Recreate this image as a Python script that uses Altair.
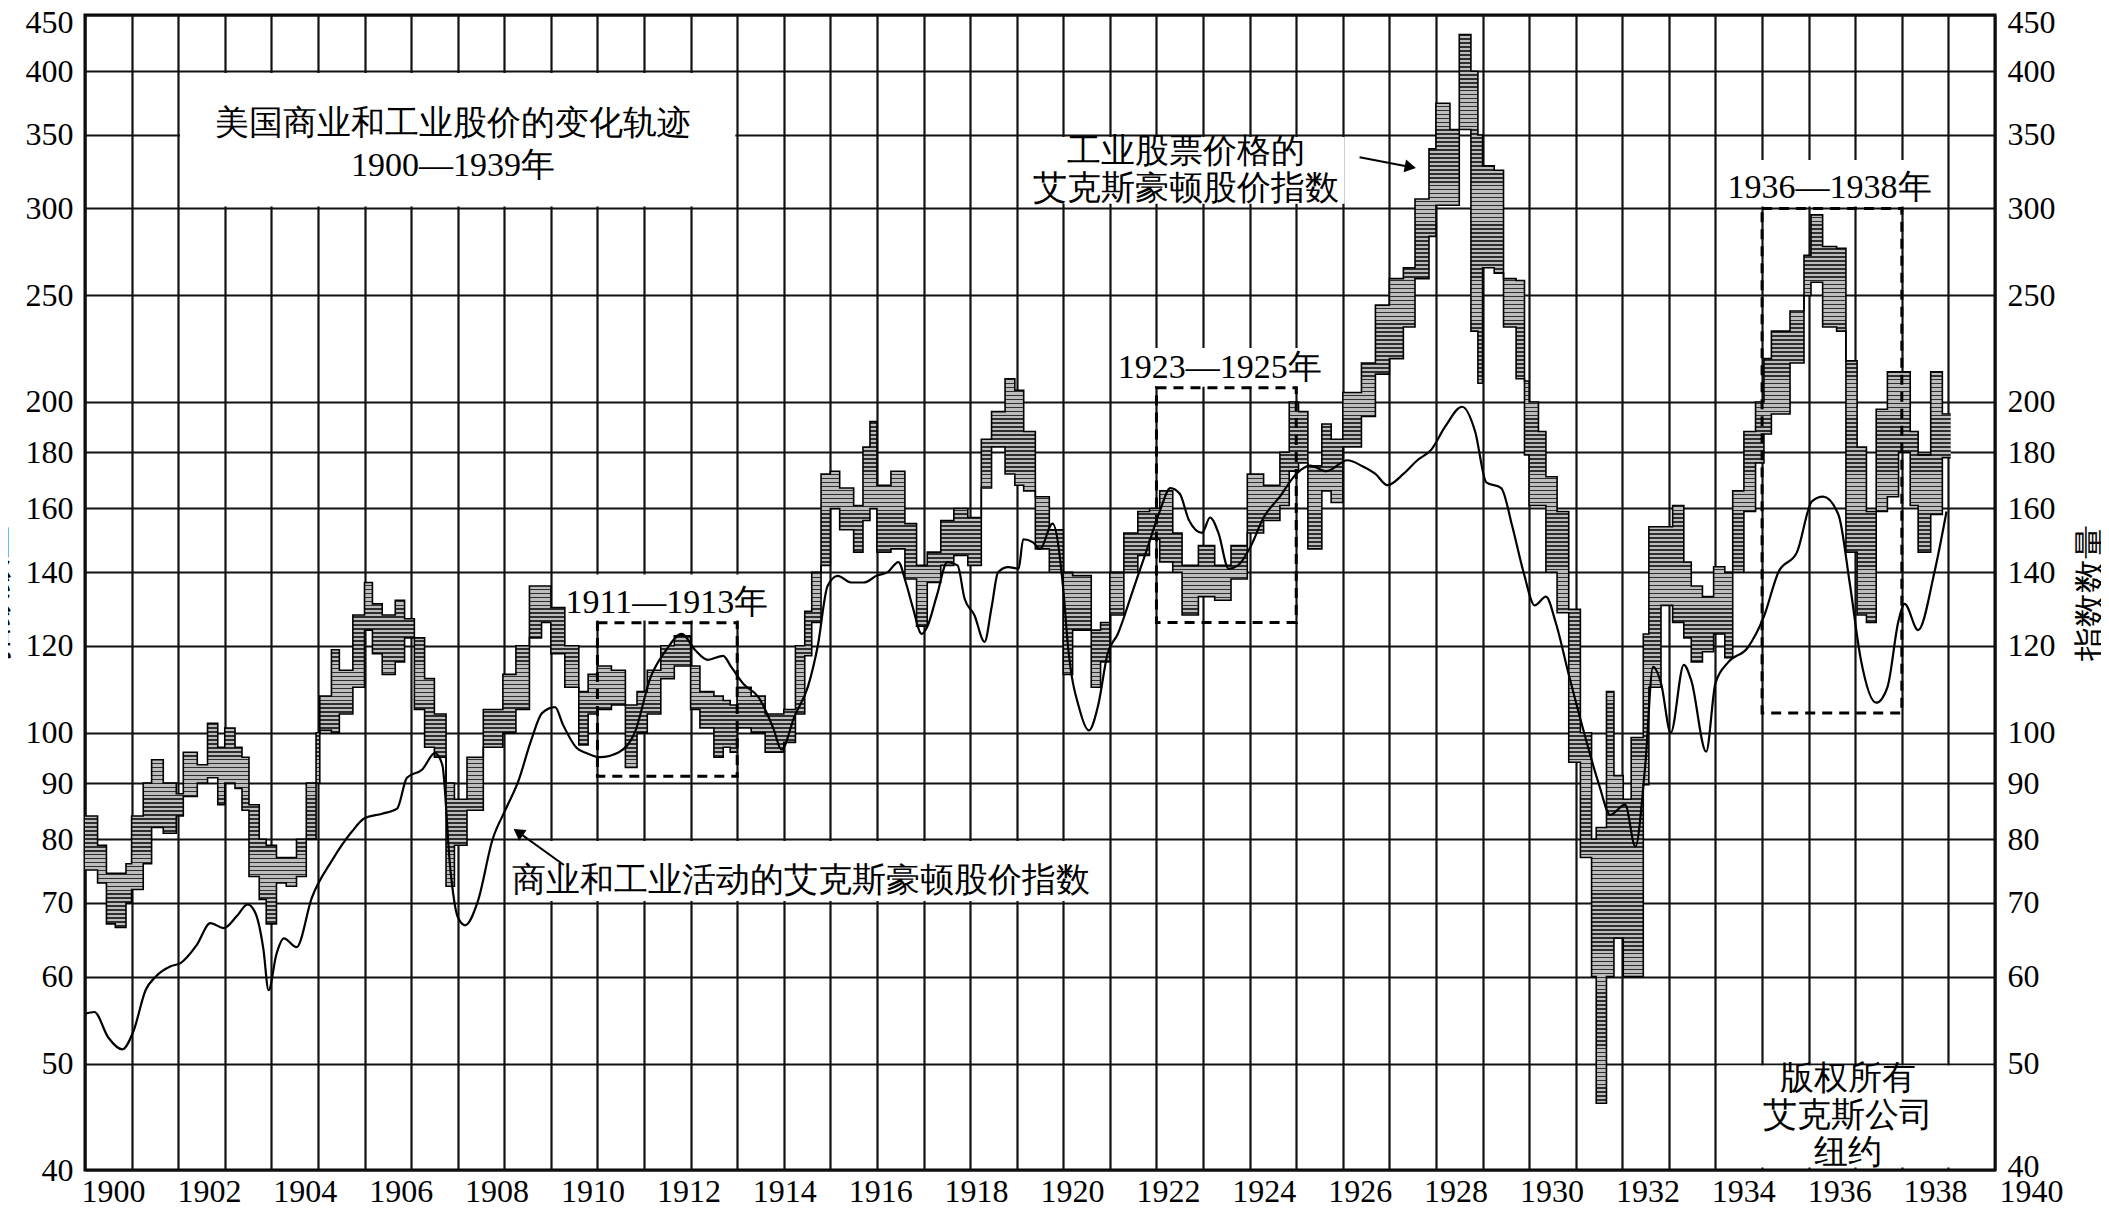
import altair as alt
import pandas as pd

# ---------------- data ----------------
# Axe-Houghton index of industrial stock prices: range (high / low), step periods starting at band_t
band_t = [1900.00, 1900.27, 1900.46, 1900.65, 1900.88, 1901.00, 1901.25, 1901.43, 1901.68, 1901.96,
          1902.11, 1902.41, 1902.63, 1902.85, 1903.00, 1903.22, 1903.37, 1903.52, 1903.74, 1903.89,
          1904.11, 1904.32, 1904.54, 1904.75, 1904.96, 1905.04, 1905.29, 1905.46, 1905.75, 1906.00,
          1906.17, 1906.38, 1906.66, 1906.86, 1907.07, 1907.29, 1907.50, 1907.75, 1907.93, 1908.20,
          1908.55, 1908.97, 1909.25, 1909.54, 1909.80, 1910.00, 1910.30, 1910.60, 1910.80, 1911.00,
          1911.30, 1911.60, 1911.85, 1912.07, 1912.36, 1912.65, 1913.00, 1913.20, 1913.50, 1913.70,
          1913.85, 1914.00, 1914.30, 1914.60, 1915.00, 1915.25, 1915.45, 1915.60, 1915.80, 1916.00,
          1916.20, 1916.50, 1916.70, 1916.85, 1917.00, 1917.30, 1917.60, 1917.85, 1918.08, 1918.37,
          1918.65, 1918.95, 1919.24, 1919.46, 1919.75, 1919.96, 1920.15, 1920.40, 1920.70, 1921.00,
          1921.20, 1921.60, 1921.80, 1922.00, 1922.30, 1922.60, 1922.85, 1923.07, 1923.35, 1923.55,
          1923.90, 1924.25, 1924.60, 1924.95, 1925.30, 1925.65, 1925.85, 1926.05, 1926.25, 1926.55,
          1926.75, 1927.00, 1927.40, 1927.70, 1928.00, 1928.30, 1928.55, 1928.85, 1929.00, 1929.30,
          1929.50, 1929.75, 1929.90, 1930.00, 1930.25, 1930.45, 1930.72, 1930.90, 1931.00, 1931.20,
          1931.36, 1931.60, 1931.85, 1932.10, 1932.34, 1932.44, 1932.66, 1932.82, 1933.02, 1933.19,
          1933.45, 1933.57, 1933.83, 1934.08, 1934.32, 1934.48, 1934.72, 1934.96, 1935.20, 1935.37,
          1935.61, 1935.86, 1936.04, 1936.20, 1936.60, 1936.90, 1937.05, 1937.30, 1937.60, 1937.80,
          1938.04, 1938.24, 1938.45, 1938.69, 1938.93, 1939.18, 1939.35, 1939.62, 1939.87, 1940.05]
band_high = [84, 79, 74.5, 74.5, 76, 84, 90, 94.5, 90, 88,
             96, 93.5, 102, 97, 101, 97, 95, 86, 80, 79,
             77, 77, 80, 90, 100, 108, 119, 114, 128, 137,
             131, 128, 132, 127, 122, 112, 104, 90, 87, 95,
             105, 113, 120, 136, 136, 130, 120, 109, 113, 115,
             114, 106, 109, 114, 120, 122.5, 115, 109, 108, 107,
             106, 110, 108, 104, 105, 120, 129, 140, 172, 173,
             167, 161, 182, 192, 168, 173, 155, 142, 146, 156,
             160, 157, 185, 196, 210, 205, 188, 164, 153, 140,
             139, 124, 126, 140, 152, 159, 160, 166, 152, 142,
             148, 142, 148, 172, 168, 180, 200, 196, 175, 191,
             185, 204, 217, 245, 259, 265, 306, 340, 374, 354,
             432, 400, 350, 328, 325, 259, 258, 209, 200, 188,
             171, 159, 129.5, 100, 80, 82, 109, 91.4, 87, 99,
             123, 154, 154, 161, 143, 136, 133, 141.6, 140, 166,
             188, 200, 219, 232, 242, 272, 296, 277, 276, 218,
             182, 159, 197, 213, 213, 188, 179, 213, 195, 195]
band_low = [75, 73, 67, 66.5, 70, 72, 76, 82, 81, 84,
            87.5, 90, 91, 86, 90, 89, 85, 74, 70.5, 67,
            73, 72.5, 74, 80, 90, 100.5, 100, 104, 110, 124,
            118, 113, 116, 122, 105, 97, 95, 72.5, 79, 85,
            97, 100, 105, 122, 126, 118, 110, 97.5, 104, 105,
            106, 93, 100, 104, 112, 115, 105, 101, 95, 97,
            96, 101, 100, 96, 98, 104, 117.5, 126, 142, 160,
            153, 146, 156, 160, 146, 147, 138, 125, 137, 142,
            145, 142, 167, 182, 172, 168, 166, 147, 140, 113,
            124, 110, 116, 128, 140, 145, 150, 143, 140, 128,
            133, 132, 138, 152, 156, 161, 173, 176, 147, 166,
            162, 182, 194, 212, 219, 234, 259, 283, 302, 302,
            354, 232, 208, 265, 262, 234, 210, 179, 161, 161,
            140, 128.6, 94, 77, 60, 46, 60, 65, 60, 60,
            89.7, 110, 130.6, 126, 122, 116, 118.5, 123, 117, 140,
            159, 176, 187, 195, 217, 250, 257, 234, 232, 146,
            128, 126, 159, 164, 180, 161, 146, 158, 178, 178]

# Axe-Houghton index of business activity
biz_t = [1900.00, 1900.20, 1900.50, 1900.80, 1901.04, 1901.30, 1901.52, 1901.84, 1902.05, 1902.40,
         1902.69, 1902.98, 1903.26, 1903.49, 1903.66, 1903.83, 1903.94, 1904.11, 1904.27, 1904.54,
         1904.87, 1905.30, 1905.73, 1906.00, 1906.38, 1906.70, 1906.91, 1907.24, 1907.51, 1907.67,
         1907.84, 1908.00, 1908.16, 1908.43, 1908.75, 1909.02, 1909.30, 1909.58, 1909.81, 1910.09,
         1910.26, 1910.55, 1910.77, 1911.05, 1911.46, 1911.80, 1912.14, 1912.48, 1912.81, 1913.09,
         1913.37, 1913.70, 1913.86, 1914.13, 1914.46, 1914.78, 1914.95, 1915.23, 1915.52, 1915.73,
         1915.94, 1916.16, 1916.44, 1916.72, 1917.00, 1917.23, 1917.46, 1917.62, 1917.77, 1917.96,
         1918.07, 1918.29, 1918.51, 1918.73, 1918.88, 1919.09, 1919.31, 1919.46, 1919.60, 1919.82,
         1920.04, 1920.14, 1920.35, 1920.50, 1920.77, 1921.00, 1921.10, 1921.35, 1921.55, 1921.75,
         1921.95, 1922.17, 1922.50, 1922.80, 1923.07, 1923.30, 1923.50, 1923.70, 1923.98, 1924.15,
         1924.33, 1924.55, 1924.75, 1925.03, 1925.30, 1925.65, 1926.00, 1926.30, 1926.65, 1927.10,
         1927.40, 1927.70, 1927.96, 1928.30, 1928.60, 1928.90, 1929.20, 1929.56, 1929.84, 1930.08,
         1930.40, 1930.64, 1930.88, 1931.12, 1931.36, 1931.57, 1931.85, 1932.18, 1932.50, 1932.74,
         1933.06, 1933.28, 1933.49, 1933.66, 1933.83, 1934.04, 1934.32, 1934.48, 1934.80, 1935.00,
         1935.28, 1935.69, 1936.04, 1936.35, 1936.75, 1937.07, 1937.31, 1937.64, 1937.88, 1938.12,
         1938.45, 1938.69, 1938.93, 1939.06, 1939.35, 1939.70, 1939.96]
biz_v = [55.5, 55.7, 52.8, 51.5, 53.5, 58.3, 60, 61.3, 61.7, 64.1,
         67.1, 66.4, 68.1, 69.8, 68.5, 63.5, 58.3, 62.9, 65, 63.8,
         70.8, 76.5, 81.3, 83.6, 84.4, 85.3, 91, 92.6, 95.8, 93.5,
         75.3, 68, 66.8, 70.2, 80, 85, 90.3, 98.5, 104.2, 105.5,
         101.7, 96.9, 95.8, 95, 96, 100, 112.3, 119, 123, 119,
         116.5, 117.5, 115, 110.8, 107.7, 100.8, 96.5, 103.5, 110.2, 120,
         136, 138.9, 137, 137, 139, 140, 143, 137, 130, 123,
         124.6, 133.5, 143, 142, 132.5, 128, 121, 130, 140, 141.5,
         141, 150, 149, 147, 155, 135, 120, 105, 100.5, 106,
         118, 123, 135, 147, 159, 167, 165, 156, 152, 157,
         152, 141, 142, 148, 157, 164, 172, 175, 173, 177,
         175, 172, 168, 172, 177, 181, 190, 198, 188, 169,
         167, 154, 140, 130.6, 133, 126, 113, 100, 89.7, 84.2,
         86, 78.8, 93.2, 114.8, 111, 100, 115.3, 111.6, 96.1, 111,
         116, 119.5, 127.6, 140, 146, 162.4, 164, 157.9, 137, 116.6,
         106.5, 110, 126.5, 131, 124, 140, 159]

# axes
y_ticks = [40, 50, 60, 70, 80, 90, 100, 120, 140, 160, 180, 200, 250, 300, 350, 400, 450]
x_grid_years = list(range(1900, 1942))
x_label_years = [1900, 1902, 1904, 1906, 1908, 1910, 1912, 1914, 1916, 1918, 1920,
                 1922, 1924, 1926, 1928, 1930, 1932, 1934, 1936, 1938, 1940]

# annotations (x, y of the first text line)
title_text = ["美国商业和工业股价的变化轨迹\n1900—1939年"]
title_x = [1907.9]
title_y = [358]

ann_text = ["工业股票价格的\n艾克斯豪顿股价指数",
            "商业和工业活动的艾克斯豪顿股价指数",
            "1911—1913年", "1923—1925年", "1936—1938年",
            "版权所有\n艾克斯公司\n纽约"]
ann_x = [1923.63, 1915.36, 1912.49, 1924.36, 1937.45, 1937.85]
ann_y = [337.6, 73.3, 131.2, 214.7, 313, 48.4]

bg_x1 = [1902.04, 1920.3, 1909.1, 1910.3, 1922.1, 1935.26, 1935.04]
bg_x2 = [1913.96, 1927.04, 1921.6, 1914.7, 1926.7, 1939.64, 1940.96]
bg_y1 = [301.3, 303, 70.3, 126.5, 206.5, 301.3, 40.2]
bg_y2 = [398.4, 348.5, 79.7, 139.3, 224, 332, 49.8]

box_x1 = [1911, 1923, 1936]
box_x2 = [1914, 1926, 1939]
box_y1 = [91.3, 126, 104.2]
box_y2 = [125.9, 206, 300]

arrow_x1 = [1927.36, 1910.28]
arrow_y1 = [334, 75.8]
arrow_x2 = [1928.45, 1909.3]
arrow_y2 = [327.3, 81.2]
arrow_shape = ["triangle-right", "triangle-left"]
arrow_angle = [11, 35]

# ---------------- chart ----------------
FONT = "Liberation Serif"
W, H = 1910, 1155

band = pd.DataFrame({"t": band_t, "high": band_high, "low": band_low})
biz = pd.DataFrame({"t": biz_t, "v": biz_v})
ttl = pd.DataFrame({"text": title_text, "x": title_x, "y": title_y})
ann = pd.DataFrame({"text": ann_text, "x": ann_x, "y": ann_y})
bg = pd.DataFrame({"x1": bg_x1, "x2": bg_x2, "y1": bg_y1, "y2": bg_y2})
boxes = pd.DataFrame({"x1": box_x1, "x2": box_x2, "y1": box_y1, "y2": box_y2})
arrows = pd.DataFrame({"x1": arrow_x1, "y1": arrow_y1, "x2": arrow_x2, "y2": arrow_y2,
                       "shape": arrow_shape, "angle": arrow_angle})
labels = pd.DataFrame({"yr": x_label_years})

XS = alt.Scale(domain=[1900, 1941], nice=False, zero=False)
YS = alt.Scale(type="log", domain=[40, 450], nice=False)


def X(f):
    return alt.X(f, type="quantitative", scale=XS, axis=None)


def Y(f):
    return alt.Y(f, type="quantitative", scale=YS, axis=None)


# hatched fill (horizontal stripes on grey) via a striped linear gradient
N = 270
stops = []
for i in range(N):
    a, b, c = i / N, (i + 0.4) / N, (i + 1) / N
    stops += [alt.GradientStop(color="#2e2e2e", offset=a), alt.GradientStop(color="#2e2e2e", offset=b),
              alt.GradientStop(color="#bcbcbc", offset=b), alt.GradientStop(color="#bcbcbc", offset=c)]
hatch = alt.Gradient(gradient="linear", stops=stops, x1=0, x2=0, y1=0, y2=1)

left_nudge = {"condition": {"test": "datum.value === 450", "value": 7}, "value": 0}
right_nudge = {"condition": [{"test": "datum.value === 450", "value": 7},
                             {"test": "datum.value === 40", "value": -4}], "value": 0}
grid_style = dict(grid=True, gridColor="#111111", gridWidth=2.2, domain=False, ticks=False)
lab_style = dict(labelFont=FONT, labelFontSize=32, labelColor="black", labelPadding=12)
title_style = dict(titleFont=FONT, titleFontSize=34, titleFontWeight="normal", titleColor="black",
                   titleAngle=270, titleAlign="center", titleBaseline="middle", titleY=H / 2)

bg_layer = alt.Chart(bg).mark_rect(color="white").encode(
    x=X("x1"), x2="x2", y=Y("y1"), y2="y2")

box_layer = alt.Chart(boxes).mark_rect(fillOpacity=0, stroke="black", strokeWidth=3,
                                       strokeDash=[10, 7]).encode(
    x=X("x1"), x2="x2", y=Y("y1"), y2="y2")

band_area = alt.Chart(band).mark_area(interpolate="step-after", color=hatch).encode(
    x=alt.X("t:Q", scale=XS,
            axis=alt.Axis(values=x_grid_years, labels=False, title="", **grid_style)),
    y=alt.Y("low:Q", scale=YS,
            axis=alt.Axis(values=y_ticks, format="d", orient="left", title="指数数量",
                          titleX=-90, labelOffset=left_nudge,
                          **grid_style, **lab_style, **title_style)),
    y2="high:Q")

band_hi = alt.Chart(band).mark_line(interpolate="step-after", color="black", strokeWidth=1.6).encode(
    x=X("t"), y=Y("high"))
band_lo = alt.Chart(band).mark_line(interpolate="step-after", color="black", strokeWidth=1.6).encode(
    x=X("t"), y=Y("low"))

biz_line = alt.Chart(biz).mark_line(interpolate="monotone", color="black", strokeWidth=2.2).encode(
    x=X("t"),
    y=alt.Y("v:Q", scale=YS,
            axis=alt.Axis(values=y_ticks, format="d", orient="right", grid=False, domain=False,
                          ticks=False, title="指数数量", titleX=96, labelOffset=right_nudge,
                          **lab_style, **title_style)))

title_layer = alt.Chart(ttl).mark_text(font=FONT, fontSize=34, lineBreak="\n", lineHeight=42,
                                       align="center", baseline="middle", color="black").encode(
    x=X("x"), y=Y("y"), text="text:N")

text_layer = alt.Chart(ann).mark_text(font=FONT, fontSize=34, lineBreak="\n", lineHeight=37,
                                      align="center", baseline="middle", color="black").encode(
    x=X("x"), y=Y("y"), text="text:N")

arrow_lines = alt.Chart(arrows).mark_rule(color="black", strokeWidth=2).encode(
    x=X("x1"), y=Y("y1"), x2="x2", y2="y2")
arrow_heads = alt.Chart(arrows).mark_point(filled=True, color="black", size=170, opacity=1).encode(
    x=X("x2"), y=Y("y2"),
    shape=alt.Shape("shape:N", scale=None),
    angle=alt.Angle("angle:Q", scale=None))

# year labels under the frame (printed on their own, slightly wider spacing)
year_axis = alt.Chart(labels).mark_point(opacity=0).encode(
    x=alt.X("yr:Q", scale=alt.Scale(domain=[1900, 1940], range=[28, 1946], nice=False, zero=False),
            axis=alt.Axis(values=x_label_years, format="d", orient="bottom", grid=False, domain=False,
                          ticks=False, labelFont=FONT, labelFontSize=32, labelColor="black",
                          labelPadding=6, labelFlush=False, labelOverlap=False, title="")),
    y=alt.value(0))

chart = alt.layer(
    band_area, bg_layer, box_layer, band_hi, band_lo, biz_line,
    title_layer, text_layer, arrow_lines, arrow_heads, year_axis
).resolve_scale(x="independent").resolve_axis(x="independent", y="independent").properties(
    width=W, height=H,
    autosize=alt.AutoSizeParams(type="none"),
    padding={"left": 77, "top": 7, "right": 106, "bottom": 38},
    background="white"
).configure_view(stroke="black", strokeWidth=3)

chart.save("out.html", embed_options={"renderer": "svg", "actions": False})
